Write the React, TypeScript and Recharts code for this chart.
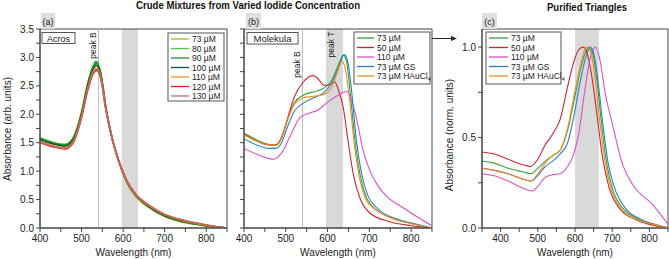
import React from 'react';
import { LineChart, Line, XAxis, YAxis, ReferenceArea, ReferenceLine, ReferenceDot } from 'recharts';

const FONT = '"Liberation Sans", Arial, Helvetica, sans-serif';
const TITLE_FONT = '"Liberation Sans Narrow", "Liberation Sans", Arial, sans-serif';
const AXIS = '#444';

// ---------- Panel (a): Acros, crude mixtures ----------
const aWavelengths = [400, 430, 460, 480, 500, 515, 528, 536, 545, 560, 575, 590, 610, 630, 660, 700, 750, 800, 850];
const aNames = ['73 µM', '80 µM', '90 µM', '100 µM', '110 µM', '120 µM', '130 µM'];
const aColors = ['#b5b21a', '#52bf45', '#1f8f2a', '#0b5a2c', '#f7941d', '#e31a1c', '#c26b6b'];
const a73 = [1.58, 1.50, 1.47, 1.58, 2.02, 2.52, 2.82, 2.88, 2.74, 2.04, 1.52, 1.15, 0.78, 0.56, 0.37, 0.20, 0.09, 0.035, 0.0];
const a80 = [1.59, 1.51, 1.47, 1.59, 2.04, 2.55, 2.85, 2.91, 2.77, 2.06, 1.54, 1.17, 0.79, 0.57, 0.38, 0.21, 0.10, 0.04, 0.0];
const a90 = [1.58, 1.50, 1.46, 1.58, 2.03, 2.54, 2.84, 2.90, 2.76, 2.06, 1.54, 1.17, 0.80, 0.58, 0.38, 0.21, 0.10, 0.04, 0.0];
const a100 = [1.55, 1.48, 1.44, 1.55, 2.00, 2.50, 2.80, 2.86, 2.73, 2.05, 1.54, 1.17, 0.80, 0.58, 0.39, 0.22, 0.11, 0.045, 0.0];
const a110 = [1.52, 1.45, 1.41, 1.52, 1.97, 2.46, 2.75, 2.81, 2.69, 2.03, 1.53, 1.17, 0.81, 0.59, 0.40, 0.23, 0.12, 0.05, 0.0];
const a120 = [1.50, 1.43, 1.39, 1.50, 1.94, 2.42, 2.71, 2.77, 2.66, 2.02, 1.53, 1.18, 0.82, 0.60, 0.41, 0.24, 0.13, 0.055, 0.0];
const a130 = [1.51, 1.44, 1.40, 1.51, 1.95, 2.44, 2.73, 2.79, 2.67, 2.02, 1.53, 1.17, 0.81, 0.60, 0.41, 0.24, 0.13, 0.055, 0.0];
const aSeries = [a73, a80, a90, a100, a110, a120, a130];

// ---------- Panel (b): Molekula, crude mixtures ----------
const bNames = ['73 µM', '50 µM', '110 µM', '73 µM GS', '73 µM HAuCl'];
const bColors = ['#38a03a', '#c8282e', '#dc4fc8', '#2b80c0', '#f28a1e'];
const bGreenWl = [400, 430, 460, 476, 490, 504, 520, 543, 570, 591, 610, 625, 638, 646, 654, 666, 678, 694, 710, 726, 766, 800, 850];
const bGreenAbs = [1.67, 1.55, 1.47, 1.46, 1.58, 1.90, 2.20, 2.34, 2.40, 2.46, 2.60, 2.85, 3.04, 2.90, 2.40, 1.52, 0.93, 0.52, 0.36, 0.27, 0.14, 0.08, 0.0];
const bRedWl = [400, 430, 460, 476, 490, 504, 520, 540, 556, 566, 578, 591, 605, 617, 628, 638, 646, 662, 678, 702, 749, 800, 850];
const bRedAbs = [1.65, 1.53, 1.46, 1.46, 1.60, 1.92, 2.30, 2.55, 2.66, 2.68, 2.62, 2.51, 2.52, 2.57, 2.38, 2.10, 1.69, 0.93, 0.52, 0.26, 0.11, 0.04, 0.0];
const bMagWl = [400, 430, 460, 472, 490, 512, 534, 556, 576, 598, 622, 646, 658, 670, 686, 702, 720, 741, 780, 820, 850];
const bMagAbs = [1.40, 1.30, 1.22, 1.21, 1.32, 1.64, 1.94, 2.02, 2.07, 2.20, 2.32, 2.40, 2.24, 1.90, 1.34, 1.00, 0.75, 0.56, 0.36, 0.17, 0.04];
const bBlueWl = [400, 430, 460, 476, 490, 504, 520, 543, 570, 591, 610, 626, 640, 648, 657, 669, 681, 697, 714, 730, 770, 800, 850];
const bBlueAbs = [1.57, 1.46, 1.40, 1.40, 1.50, 1.78, 2.05, 2.20, 2.30, 2.38, 2.55, 2.82, 3.05, 2.94, 2.45, 1.55, 0.97, 0.56, 0.38, 0.28, 0.15, 0.09, 0.0];
const bOrangeWl = [400, 430, 460, 476, 490, 504, 520, 543, 570, 591, 610, 624, 634, 642, 652, 664, 676, 692, 710, 726, 766, 800, 850];
const bOrangeAbs = [1.64, 1.53, 1.46, 1.45, 1.58, 1.90, 2.17, 2.29, 2.32, 2.35, 2.48, 2.75, 2.93, 2.82, 2.30, 1.48, 0.90, 0.50, 0.35, 0.27, 0.14, 0.08, 0.0];

// ---------- Panel (c): purified triangles (normalised) ----------
const cGreenWl = [350, 380, 420, 460, 482, 500, 520, 540, 560, 580, 600, 615, 628, 638, 648, 660, 670, 685, 700, 728, 770, 810, 850];
const cGreenAbs = [0.37, 0.36, 0.33, 0.31, 0.30, 0.33, 0.37, 0.40, 0.43, 0.54, 0.73, 0.88, 0.97, 1.0, 0.96, 0.80, 0.60, 0.36, 0.22, 0.11, 0.05, 0.02, 0.0];
const cRedWl = [350, 380, 420, 460, 480, 500, 520, 540, 560, 580, 600, 612, 622, 632, 645, 657, 674, 692, 719, 764, 800, 850];
const cRedAbs = [0.42, 0.41, 0.38, 0.35, 0.34, 0.38, 0.46, 0.52, 0.60, 0.78, 0.94, 0.99, 1.0, 0.97, 0.84, 0.66, 0.39, 0.22, 0.11, 0.045, 0.02, 0.0];
const cMagWl = [350, 380, 420, 460, 485, 500, 520, 540, 560, 580, 595, 610, 625, 640, 655, 668, 680, 701, 728, 755, 808, 850];
const cMagAbs = [0.30, 0.29, 0.26, 0.22, 0.205, 0.23, 0.28, 0.295, 0.30, 0.34, 0.40, 0.52, 0.74, 0.93, 1.0, 0.92, 0.76, 0.57, 0.35, 0.24, 0.13, 0.02];
const cBlueWl = [350, 380, 420, 460, 482, 500, 520, 540, 560, 580, 600, 615, 630, 641, 651, 663, 674, 689, 705, 735, 775, 815, 850];
const cBlueAbs = [0.33, 0.32, 0.30, 0.27, 0.26, 0.29, 0.34, 0.37, 0.41, 0.47, 0.65, 0.82, 0.95, 1.0, 0.96, 0.79, 0.59, 0.36, 0.23, 0.11, 0.05, 0.02, 0.0];
const cOrangeWl = [350, 380, 420, 460, 482, 500, 520, 540, 560, 580, 600, 615, 625, 634, 644, 656, 667, 682, 698, 726, 768, 810, 850];
const cOrangeAbs = [0.33, 0.32, 0.30, 0.27, 0.26, 0.30, 0.36, 0.40, 0.43, 0.55, 0.76, 0.90, 0.98, 1.0, 0.96, 0.79, 0.58, 0.35, 0.21, 0.10, 0.045, 0.02, 0.0];

// ticks
const abXTicks = [400, 450, 500, 550, 600, 650, 700, 750, 800, 850];
const cXTicks = [350, 400, 450, 500, 550, 600, 650, 700, 750, 800, 850];
const abYTicks = [0, 0.25, 0.5, 0.75, 1, 1.25, 1.5, 1.75, 2, 2.25, 2.5, 2.75, 3, 3.25, 3.5];
const cYTicks = [0, 0.25, 0.5, 0.75, 1.0];

const zip = (wl: number[], ab: number[]) => wl.map((w, i) => ({ wl: w, a: ab[i] }));
const aData = aWavelengths.map((w, i) => {
  const row: any = { wl: w };
  aSeries.forEach((s, k) => { row['s' + k] = s[i]; });
  return row;
});
const bSeries = [zip(bGreenWl, bGreenAbs), zip(bRedWl, bRedAbs), zip(bMagWl, bMagAbs), zip(bBlueWl, bBlueAbs), zip(bOrangeWl, bOrangeAbs)];
const cSeries = [zip(cGreenWl, cGreenAbs), zip(cRedWl, cRedAbs), zip(cMagWl, cMagAbs), zip(cBlueWl, cBlueAbs), zip(cOrangeWl, cOrangeAbs)];

const xFmt = (v: number) => (v % 100 === 0 ? String(v) : '');
const yFmt = (v: number) => (Math.abs(v * 2 - Math.round(v * 2)) < 1e-6 ? v.toFixed(1) : '');
const tickStyle = { fontSize: 10, fill: '#222', fontFamily: FONT };
const xLabel = { value: 'Wavelength (nm)', position: 'insideBottom' as const, offset: 3, fontSize: 10, fill: '#222', fontFamily: FONT };

function Legend({ x, y, w, h, names, colors, lineLen, sub }: any) {
  return (
    <g>
      <rect x={x} y={y} width={w} height={h} fill="#fff" stroke="#555" strokeWidth={1} />
      {names.map((n: string, i: number) => {
        const cy = y + 6 + i * 9.5;
        return (
          <g key={n + i}>
            <line x1={x + 3} x2={x + 3 + lineLen} y1={cy} y2={cy} stroke={colors[i]} strokeWidth={1.3} />
            <text x={x + 6 + lineLen} y={cy + 3} fontSize={8.5} fill="#222" style={{ fontFamily: FONT }}>
              {n}
              {sub && i === names.length - 1 ? <tspan dy={2} fontSize={5.5}>4</tspan> : null}
            </text>
          </g>
        );
      })}
    </g>
  );
}

export default function App() {
  return (
    <div style={{ position: 'absolute', left: 0, top: 0, width: 669, height: 259, background: '#fff', overflow: 'hidden' }}>
      {/* Panel a */}
      <div style={{ position: 'absolute', left: 0, top: 0 }}>
        <LineChart width={235} height={259} data={aData} margin={{ top: 29, right: 8, bottom: 0, left: 0 }}>
          <XAxis dataKey="wl" type="number" domain={[400, 850]} ticks={abXTicks} interval={0} tickFormatter={xFmt}
            height={31} tickSize={4} tickMargin={3} tick={tickStyle} stroke={AXIS} allowDataOverflow label={xLabel} />
          <YAxis type="number" domain={[0, 3.5]} ticks={abYTicks} interval={0} tickFormatter={yFmt}
            width={40} tickSize={4} tick={tickStyle} stroke={AXIS} allowDataOverflow />
          <ReferenceArea x1={597} x2={636} y1={0} y2={3.5} fill="#d9d9d9" fillOpacity={1} stroke="none" />
          <ReferenceLine x={541} stroke="#bdbdbd" strokeWidth={1} />
          {aSeries.map((_, k) => (
            <Line key={k} dataKey={'s' + k} type="monotone" stroke={aColors[k]} strokeWidth={1.5} dot={false} isAnimationActive={false} />
          ))}
          <ReferenceDot x={535} y={2.9} r={2} fill="none" stroke="#1f8f2a" strokeWidth={1} />
          <ReferenceArea x1={400} x2={850} y1={0} y2={3.5} fill="none" stroke={AXIS} strokeWidth={1} />
        </LineChart>
      </div>

      {/* Panel b */}
      <div style={{ position: 'absolute', left: 236, top: 0 }}>
        <LineChart width={200} height={259} margin={{ top: 29, right: 4, bottom: 0, left: 0 }}>
          <XAxis dataKey="wl" type="number" domain={[400, 850]} ticks={abXTicks} interval={0} tickFormatter={xFmt}
            height={31} tickSize={4} tickMargin={3} tick={tickStyle} stroke={AXIS} allowDataOverflow label={xLabel} />
          <YAxis type="number" domain={[0, 3.5]} ticks={abYTicks} interval={0} tickFormatter={() => ''}
            width={8} tickSize={4} tick={tickStyle} stroke={AXIS} allowDataOverflow />
          <ReferenceArea x1={596} x2={637} y1={0} y2={3.5} fill="#d9d9d9" fillOpacity={1} stroke="none" />
          <ReferenceLine x={540} stroke="#bdbdbd" strokeWidth={1} />
          {bSeries.map((d, k) => (
            <Line key={k} data={d} dataKey="a" type="monotone" stroke={bColors[k]} strokeWidth={1.1} dot={false} isAnimationActive={false} />
          ))}
          <ReferenceArea x1={400} x2={850} y1={0} y2={3.5} fill="none" stroke={AXIS} strokeWidth={1} />
        </LineChart>
      </div>

      {/* Panel c */}
      <div style={{ position: 'absolute', left: 440, top: 0 }}>
        <LineChart width={229} height={259} margin={{ top: 29, right: 1, bottom: 0, left: 0 }}>
          <XAxis dataKey="wl" type="number" domain={[350, 850]} ticks={cXTicks} interval={0} tickFormatter={xFmt}
            height={31} tickSize={4} tickMargin={3} tick={tickStyle} stroke={AXIS} allowDataOverflow label={xLabel} />
          <YAxis type="number" domain={[0, 1.1]} ticks={cYTicks} interval={0} tickFormatter={yFmt}
            width={42} tickSize={4} tick={tickStyle} stroke={AXIS} allowDataOverflow />
          <ReferenceArea x1={600} x2={664} y1={0} y2={1.1} fill="#d9d9d9" fillOpacity={1} stroke="none" />
          {cSeries.map((d, k) => (
            <Line key={k} data={d} dataKey="a" type="monotone" stroke={bColors[k]} strokeWidth={1.1} dot={false} isAnimationActive={false} />
          ))}
          <ReferenceArea x1={350} x2={850} y1={0} y2={1.1} fill="none" stroke={AXIS} strokeWidth={1} />
        </LineChart>
      </div>

      {/* Annotations */}
      <svg width={669} height={259} style={{ position: 'absolute', left: 0, top: 0, pointerEvents: 'none' }}>
        <text x={248} y={8.5} textAnchor="middle" fontSize={10} fontWeight="bold" fill="#111" style={{ fontFamily: TITLE_FONT }}
          textLength={224} lengthAdjust="spacingAndGlyphs">Crude Mixtures from Varied Iodide Concentration</text>
        <text x={587} y={10.5} textAnchor="middle" fontSize={10} fontWeight="bold" fill="#111" style={{ fontFamily: TITLE_FONT }}
          textLength={80} lengthAdjust="spacingAndGlyphs">Purified Triangles</text>

        <text transform="translate(10.5,129) rotate(-90)" textAnchor="middle" fontSize={10} fill="#222" style={{ fontFamily: FONT }}>Absorbance (arb. units)</text>
        <text transform="translate(453,135) rotate(-90)" textAnchor="middle" fontSize={10} fill="#222" style={{ fontFamily: FONT }}>Absorbance (norm. units)</text>

        <rect x={41} y={13} width={14} height={16} fill="#dedede" />
        <text x={48} y={25} textAnchor="middle" fontSize={9} fill="#222" style={{ fontFamily: FONT }}>(a)</text>
        <rect x={246} y={13} width={15} height={16} fill="#dedede" />
        <text x={253.5} y={25} textAnchor="middle" fontSize={9} fill="#222" style={{ fontFamily: FONT }}>(b)</text>
        <rect x={482} y={13} width={15} height={16} fill="#dedede" />
        <text x={489.5} y={25} textAnchor="middle" fontSize={9} fill="#222" style={{ fontFamily: FONT }}>(c)</text>

        <rect x={42} y={32.5} width={33} height={11} fill="#fff" stroke="#555" strokeWidth={1} />
        <text x={58.5} y={41.5} textAnchor="middle" fontSize={9} fill="#222" style={{ fontFamily: FONT }}>Acros</text>
        <rect x={247} y={32.5} width={51} height={11.5} fill="#fff" stroke="#555" strokeWidth={1} />
        <text x={272.5} y={41.8} textAnchor="middle" fontSize={9.5} fill="#222" style={{ fontFamily: FONT }}>Molekula</text>

        <text transform="translate(95.5,45.5) rotate(-90)" textAnchor="middle" fontSize={8.5} fill="#222" style={{ fontFamily: FONT }}>peak B</text>
        <text transform="translate(300,64.5) rotate(-90)" textAnchor="middle" fontSize={8.5} fill="#222" style={{ fontFamily: FONT }}>peak B</text>
        <text transform="translate(334,44.5) rotate(-90)" textAnchor="middle" fontSize={8.5} fill="#222" style={{ fontFamily: FONT }}>peak T</text>

        <Legend x={168} y={33} w={56} h={68} names={aNames} colors={aColors} lineLen={18} />
        <Legend x={354} y={32} w={76} h={52} names={bNames} colors={bColors} lineLen={17} sub />
        <Legend x={486} y={32} w={75} h={52} names={bNames} colors={bColors} lineLen={19} sub />

        <line x1={432} y1={38.5} x2={452} y2={38.5} stroke="#222" strokeWidth={1} />
        <polygon points="457,38.5 451,36 451,41" fill="#222" />
      </svg>
    </div>
  );
}
